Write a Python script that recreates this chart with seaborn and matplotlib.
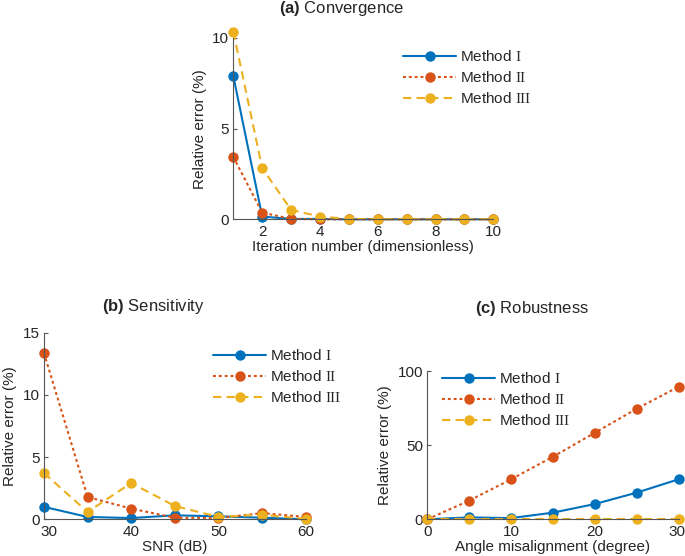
import numpy as np
import pandas as pd

import matplotlib
matplotlib.use("Agg")
import matplotlib.pyplot as plt
import matplotlib.transforms as mtransforms
import seaborn as sns


# =========================================================
# DATA
# =========================================================

methods = ["Method I", "Method II", "Method III"]

labels = ["Method $\\mathrm{I}$", "Method $\\mathrm{II}$", "Method $\\mathrm{III}$"]

iterations = [1, 2, 3, 4, 5, 6, 7, 8, 9, 10]
conv_m1 = [7.9, 0.15, 0.02, 0.02, 0.0, 0.0, 0.0, 0.0, 0.0, 0.0]
conv_m2 = [3.44, 0.37, 0.02, 0.0, 0.0, 0.0, 0.0, 0.0, 0.0, 0.0]
conv_m3 = [10.35, 2.82, 0.52, 0.15, 0.02, 0.0, 0.0, 0.0, 0.0, 0.0]

snr = [30, 35, 40, 45, 50, 55, 60]
sens_m1 = [1.0, 0.19, 0.1, 0.32, 0.24, 0.13, 0.0]
sens_m2 = [13.37, 1.79, 0.86, 0.13, 0.1, 0.5, 0.19]
sens_m3 = [3.72, 0.59, 2.92, 1.07, 0.19, 0.37, 0.03]

angle = [0, 5, 10, 15, 20, 25, 30]
rob_m1 = [0.0, 1.3, 0.8, 4.5, 10.3, 18.0, 27.0]
rob_m2 = [0.0, 12.6, 27.0, 42.2, 58.4, 74.6, 89.4]
rob_m3 = [0.0, 0.0, 0.0, 0.0, 0.0, 0.0, 0.0]


def long_df(x, series):
    rows = []
    for name, vals in zip(methods, series):
        for xi, yi in zip(x, vals):
            rows.append({"x": xi, "y": yi, "method": name})
    return pd.DataFrame(rows)


# =========================================================
# STYLE
# =========================================================

sns.set_style("ticks")

plt.rcParams["font.family"] = ["Liberation Sans", "DejaVu Sans"]
plt.rcParams["mathtext.fontset"] = "custom"
plt.rcParams["mathtext.rm"] = "Liberation Serif"
plt.rcParams["mathtext.bf"] = "Liberation Sans:bold"
plt.rcParams["xtick.direction"] = "in"
plt.rcParams["ytick.direction"] = "in"

palette = {
    "Method I": "#0072BD",
    "Method II": "#D95319",
    "Method III": "#EDB120"
}

dashes = {
    "Method I": "",
    "Method II": (1.4, 1.4),
    "Method III": (4, 2.5)
}

markers = {m: "o" for m in methods}

axis_color = "#555555"

fig = plt.figure(figsize=(6.85, 5.56), dpi=100)

ax_a = fig.add_axes([0.3406, 0.6056, 0.3796, 0.3261])
ax_b = fig.add_axes([0.0642, 0.0660, 0.3820, 0.3356])
ax_c = fig.add_axes([0.6238, 0.0660, 0.3670, 0.2667])


def draw_panel(ax, df, xlim, ylim, xticks, yticks, xlabel, legend_anchor):

    sns.lineplot(
        data=df,
        x="x",
        y="y",
        hue="method",
        style="method",
        hue_order=methods,
        style_order=methods,
        palette=palette,
        dashes=dashes,
        markers=markers,
        markersize=7.5,
        markeredgewidth=0,
        linewidth=1.5,
        clip_on=False,
        ax=ax
    )

    ax.set_xlim(*xlim)
    ax.set_ylim(*ylim)
    ax.set_xticks(xticks)
    ax.set_yticks(yticks)

    ax.set_xlabel(xlabel, fontsize=11, labelpad=0.5)
    ax.set_ylabel("Relative error (%)", fontsize=11, labelpad=4)

    ax.tick_params(axis="x", labelsize=11, length=3, color=axis_color, pad=4)
    ax.tick_params(axis="y", labelsize=11, length=3, color=axis_color, pad=3)

    sns.despine(ax=ax)

    for side in ["left", "bottom"]:
        ax.spines[side].set_color(axis_color)
        ax.spines[side].set_linewidth(0.8)

    handles, _ = ax.get_legend_handles_labels()

    ax.legend(
        handles[:3],
        labels,
        loc="upper left",
        bbox_to_anchor=legend_anchor,
        bbox_transform=fig.transFigure,
        frameon=False,
        fontsize=11,
        handlelength=3.5,
        handletextpad=0.25,
        labelspacing=0.4,
        borderpad=0,
        borderaxespad=0
    )


def nudge_xlabel(ax, index, dx_px):
    lab = ax.get_xticklabels()[index]
    offset = mtransforms.ScaledTranslation(dx_px / 100, 0, fig.dpi_scale_trans)
    lab.set_transform(lab.get_transform() + offset)


# =========================================================
# (a) CONVERGENCE
# =========================================================

draw_panel(
    ax_a,
    long_df(iterations, [conv_m1, conv_m2, conv_m3]),
    (1, 10),
    (0, 10),
    [2, 4, 6, 8, 10],
    [0, 5, 10],
    "Iteration number (dimensionless)",
    (403 / 685, 1 - 49 / 556)
)

# =========================================================
# (b) SENSITIVITY
# =========================================================

draw_panel(
    ax_b,
    long_df(snr, [sens_m1, sens_m2, sens_m3]),
    (30, 60),
    (0, 15),
    [30, 40, 50, 60],
    [0, 5, 10, 15],
    "SNR (dB)",
    (213 / 685, 1 - 348 / 556)
)

nudge_xlabel(ax_b, 0, 5)

# =========================================================
# (c) ROBUSTNESS
# =========================================================

draw_panel(
    ax_c,
    long_df(angle, [rob_m1, rob_m2, rob_m3]),
    (0, 30),
    (0, 100),
    [0, 10, 20, 30],
    [0, 50, 100],
    "Angle misalignment (degree)",
    (442 / 685, 1 - 371 / 556)
)

nudge_xlabel(ax_c, 3, -2)

# =========================================================
# TITLES
# =========================================================

fig.text(342 / 685, 1 - 8 / 556, "$\\mathbf{(a)}$ Convergence",
         ha="center", va="center", fontsize=12)
fig.text(153 / 685, 1 - 306 / 556, "$\\mathbf{(b)}$ Sensitivity",
         ha="center", va="center", fontsize=12)
fig.text(532 / 685, 1 - 309 / 556, "$\\mathbf{(c)}$ Robustness",
         ha="center", va="center", fontsize=12)

fig.savefig("out.png", dpi=100)
